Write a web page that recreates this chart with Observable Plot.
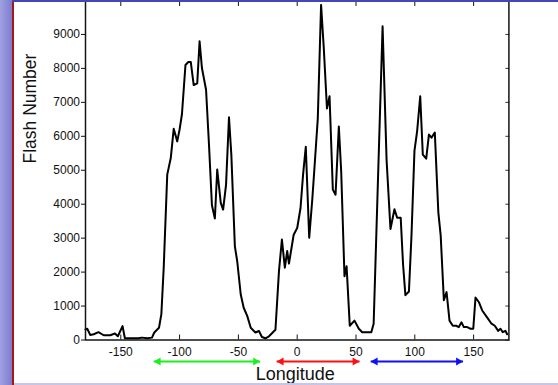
<!DOCTYPE html>
<html>
<head>
<meta charset="utf-8">
<script src="https://cdn.jsdelivr.net/npm/d3@7"></script>
<script src="https://cdn.jsdelivr.net/npm/@observablehq/plot@0.6"></script>
<style>
  html, body { margin: 0; padding: 0; background: #fff; }
  #slide { position: relative; width: 558px; height: 385px; background: #fff; overflow: hidden;
           font-family: "Liberation Sans", Arial, sans-serif; }
  #strip { position: absolute; left: 0; top: 0; width: 12px; height: 385px;
           background: linear-gradient(to right, #a0a0e2, #7c7cce); z-index: 2; }
  #redline { position: absolute; left: 12px; top: 0; width: 2px; height: 385px; background: #a81515; z-index: 2; }
  #topline { position: absolute; left: 12px; right: 0; top: 0; height: 2px; background: #4545b5; z-index: 2; }
  #bottomline { position: absolute; left: 14px; right: 0; bottom: 0; height: 2px; background: #c6c6ec; z-index: 2; }
  #chart { position: absolute; left: 0; top: 0; z-index: 1; }
</style>
</head>
<body>
<div id="slide">
  <div id="chart"></div>
  <div id="strip"></div>
  <div id="redline"></div>
  <div id="topline"></div>
  <div id="bottomline"></div>
</div>
<script>
// Flash counts by longitude
const longitude = [
  -180, -178.5, -176, -173, -169, -164.5, -159, -155, -152.5, -148.5, -146.5, -135, -132, -127.5, -123.5,
  -121.5, -117.5, -115.5, -113.5, -110.5, -107.5, -105, -102, -100, -98, -95, -92.5, -90.5, -88, -85,
  -83, -81, -77.5, -75, -72.5, -70, -68, -65, -63, -60.5, -58, -56, -53, -51, -48, -45.5, -42.5, -39.5,
  -35.5, -32.5, -30, -27, -24, -18.5, -15.5, -13, -10.5, -8.5, -7, -3, 0, 2.8, 5, 7.3, 10.2, 12.8, 14.7,
  17.5, 20.3, 22.6, 25.3, 27.5, 30.3, 32.6, 35.4, 37.4, 40.2, 42, 44.7, 48.7, 52.4, 55.3, 59.5, 63, 65,
  72.6, 76, 79.3, 82.7, 85, 88, 90, 92, 95, 97.2, 99.7, 102, 104.6, 106.8, 109.7, 112, 114.2, 117, 120,
  122, 124.7, 127, 129.5, 132.3, 135.2, 137.4, 139.7, 141.7, 144.6, 147.4, 149.7, 151.6, 154.4, 157.3,
  161.6, 165.2, 168, 170.9, 172.9, 174.8, 177.1, 178.5
];
const flashes = [
  310, 330, 150, 170, 230, 140, 140, 190, 110, 410, 50, 50, 70, 50, 70,
  220, 360, 760, 2130, 4870, 5360, 6220, 5850, 6200, 6650, 8100, 8190, 8190, 7510, 7560,
  8800, 8010, 7370, 5750, 3970, 3580, 5020, 4040, 3840, 4570, 6560, 5460, 2760, 2320, 1340, 950, 710, 360,
  220, 265, 90, 50, 110, 300, 2030, 2960, 2130, 2620, 2250, 3100, 3300, 3880, 4870, 5690, 3010, 4130, 5080,
  6520, 9870, 8600, 6820, 7180, 4430, 4280, 6290, 4970, 1880, 2170, 420, 570, 330, 230, 230, 230, 480,
  9240, 5300, 3270, 3850, 3600, 3600, 2230, 1320, 1430, 3100, 5570, 6160, 7180, 5460, 5340, 6050, 5960, 6110, 3760,
  3080, 1170, 1410, 570, 420, 420, 380, 520, 380, 380, 330, 330, 1250, 1120, 870,
  660, 480, 420, 270, 330, 230, 270, 170
];

const xTicks = [-150, -100, -50, 0, 50, 100, 150];
const yTicks = [0, 1000, 2000, 3000, 4000, 5000, 6000, 7000, 8000, 9000];

// Longitude bands marked with double arrows under the axis
const bandStart = [-122, -17.5, 62.5];
const bandEnd = [-31.5, 53, 141];
const bandColor = ["#1cf01c", "#ff1010", "#1010f0"];

const xLabel = "Longitude";
const yLabel = "Flash Number";

const data = longitude.map((lon, i) => ({lon, flashes: flashes[i]}));
const bands = bandStart.map((s, i) => ({start: s, end: bandEnd[i], color: bandColor[i]}));

const font = "'Liberation Sans', Arial, sans-serif";
const noLabel = () => "";
const plain = d => String(d);

const chart = Plot.plot({
  width: 558,
  height: 385,
  marginLeft: 85,
  marginRight: 49.6,
  marginTop: 0,
  marginBottom: 45.5,
  style: {fontFamily: font, fontSize: "12px", color: "#111", background: "transparent"},
  x: {domain: [-180, 180], ticks: xTicks},
  y: {domain: [0, 10000], ticks: yTicks},
  color: {type: "identity"},
  marks: [
    Plot.axisY({anchor: "left", ticks: yTicks, tickSize: 4, tickPadding: 1.5, tickFormat: plain, label: null, stroke: "#111", fill: "#111"}),
    Plot.axisY({anchor: "right", ticks: yTicks, tickSize: -4, tickFormat: noLabel, label: null, stroke: "#333"}),
    Plot.axisX({anchor: "bottom", ticks: xTicks, tickSize: -5, tickFormat: noLabel, label: null, stroke: "#111"}),
    Plot.axisX({anchor: "bottom", ticks: xTicks, tickSize: 0, tickPadding: 7.5, tickFormat: plain, label: null, fill: "#111"}),
    Plot.axisX({anchor: "top", ticks: xTicks, tickSize: -5, tickFormat: noLabel, label: null, stroke: "#111"}),
    Plot.line(data, {x: "lon", y: "flashes", stroke: "#000", strokeWidth: 2}),
    Plot.frame({stroke: "#151515", strokeWidth: 1.5}),
    Plot.link(bands, {x1: "start", x2: "end", y1: 0, y2: 0, dy: 21.5, stroke: "color", strokeWidth: 2}),
    Plot.dot(bands, {x: "start", y: 0, dy: 21.5, dx: 4.6, symbol: "triangle", rotate: -90, r: 3, fill: "color", stroke: null}),
    Plot.dot(bands, {x: "end", y: 0, dy: 21.5, dx: -4.6, symbol: "triangle", rotate: 90, r: 3, fill: "color", stroke: null}),
    Plot.text([xLabel], {text: d => d, frameAnchor: "bottom", lineAnchor: "middle", dx: -2, dy: 34.7, fontSize: 18, fill: "#111"}),
    Plot.text([yLabel], {text: d => d, frameAnchor: "left", lineAnchor: "middle", rotate: -90, dx: -54.8, dy: -6.75, fontSize: 17.5, fill: "#111"})
  ]
});
document.getElementById("chart").appendChild(chart);
</script>
</body>
</html>
